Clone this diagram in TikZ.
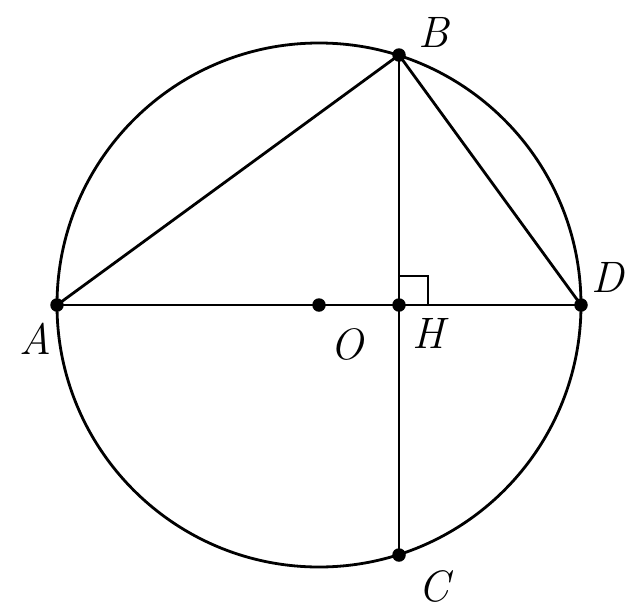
\documentclass[tikz,border=0pt]{standalone}
\usepackage{fontspec}
\usepackage{tikz}

\begin{document}
\begin{tikzpicture}[x=1pt,y=1pt,yscale=-1,xscale=1,
  seg/.style={line width=2.8pt},
  dot/.style={circle,fill=black,inner sep=0pt,minimum size=13.5pt},
  lbl/.style={inner sep=0pt,font=\fontsize{44}{50}\selectfont\itshape}]
\useasboundingbox (0,0) rectangle (625,614);

% Points
\coordinate (O) at (319,305);
\coordinate (A) at (57,305);
\coordinate (D) at (581,305);
\coordinate (B) at (399,55);
\coordinate (H) at (399,305);
\coordinate (C) at (399,555);

%Shape: Circle
\draw [seg] (O) circle [radius=262];
%Straight Lines
\draw [seg] (A) -- (D) ;
\draw [seg] (A) -- (B) ;
\draw [seg] (B) -- (D) ;
\draw [seg] (B) -- (C) ;
%Right angle mark
\draw [line width=2.2pt] ([yshift=-29pt]H) -- ++(29,0) -- ++(0,29) ;

% Dots
\node [dot] (dA) at (A) {};
\node [dot] (dB) at (B) {};
\node [dot] (dC) at (C) {};
\node [dot] (dD) at (D) {};
\node [dot] (dH) at (H) {};
\node [dot] (dO) at (O) {};

% Text Node
\node [lbl] (lB) at (434,32) {B};
% Text Node
\node [lbl] (lD) at (608,277) {D};
% Text Node
\node [lbl] (lA) at (35,339) {A};
% Text Node
\node [lbl] (lO) at (347,344) {O};
% Text Node
\node [lbl] (lH) at (428,333) {H};
% Text Node
\node [lbl] (lC) at (434,586) {C};

\end{tikzpicture}
\end{document}
